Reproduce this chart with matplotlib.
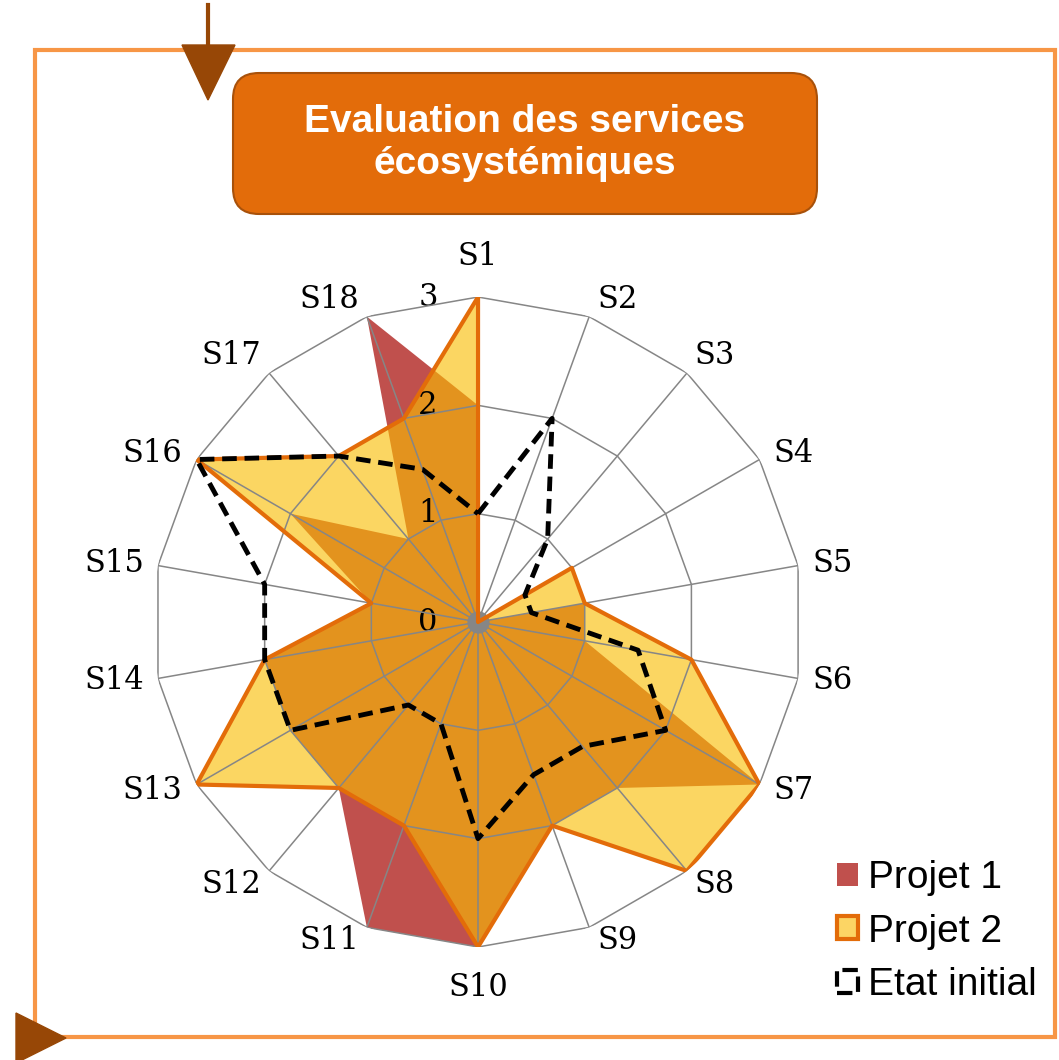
import numpy as np
import matplotlib.pyplot as plt
from matplotlib.patches import Patch, FancyBboxPatch, Polygon, Rectangle

services = [f"S{i}" for i in range(1, 19)]
projet1 = [2, 0, 0, 0, 1, 1, 3, 2, 2, 3, 3, 2, 2, 2, 1, 2, 1, 3]
projet2 = [3, 0, 0, 1, 1, 2, 3, 3, 2, 3, 2, 2, 3, 2, 1, 3, 2, 2]
etat_initial = [1, 2, 1, 0.5, 0.5, 1.5, 2, 1.5, 1.5, 2, 1, 1, 2, 2, 2, 3, 2, 1.5]
niveaux = [0, 1, 2, 3]
legende = ["Projet 1", "Projet 2", "Etat initial"]

rouge = "#C0504D"
jaune = (250/255, 189/255, 2/255, 0.62)
orange = "#E36C09"
gris = "#868686"

n = len(services)
angles = np.linspace(0, 2*np.pi, n, endpoint=False)
a_ferme = np.append(angles, angles[0])

def ferme(v):
    return list(v) + [v[0]]

fig = plt.figure(figsize=(10.59, 10.60), dpi=100)

# decor : cadre, fleches, titre (coordonnees en pixels)
deco = fig.add_axes([0, 0, 1, 1], zorder=0)
deco.set_xlim(0, 1059)
deco.set_ylim(1060, 0)
deco.axis('off')
deco.add_patch(Rectangle((35, 50), 1020, 987, fill=False, edgecolor='#F79646', lw=3))
deco.plot([208, 208], [5, 50], color='#974706', lw=3)
deco.add_patch(Polygon([(182, 45), (235, 45), (208, 100)], closed=True, color='#974706'))
deco.add_patch(Polygon([(16, 1013), (16, 1063), (66, 1038)], closed=True, color='#974706'))
deco.add_patch(FancyBboxPatch((233, 73), 584, 141, boxstyle="round,pad=0,rounding_size=26",
                              facecolor='#E36C0A', edgecolor='#A8510A', lw=1.5))
deco.text(525, 143, "Evaluation des services\nécosystémiques", ha='center', va='center',
          color='white', fontsize=28, fontweight='bold', family='Liberation Sans', linespacing=1.2)

# radar
ax = fig.add_axes([0.1445, 0.1066, 0.6138, 0.6132], projection='polar', zorder=1)
ax.set_theta_zero_location('N')
ax.set_theta_direction(-1)
ax.set_ylim(0, 3)
ax.set_axis_off()

ax.fill(a_ferme, ferme(projet1), facecolor=rouge, edgecolor='none', zorder=2)
ax.fill(a_ferme, ferme(projet2), facecolor=jaune, edgecolor='none', zorder=3)

for lvl in niveaux[1:]:
    ax.plot(a_ferme, [lvl]*(n+1), color=gris, lw=1.1, zorder=4)
for a in angles:
    ax.plot([a, a], [0, 3], color=gris, lw=1.1, zorder=4)
ax.plot([0], [0], 'o', color=gris, ms=15, zorder=4)

ax.plot(a_ferme, ferme(projet2), color=orange, lw=3, zorder=5)
ax.plot(a_ferme, ferme(etat_initial), color='black', lw=3.5, dashes=(3, 1.6), zorder=6)

# etiquettes des axes, placees comme dans Excel autour des sommets
for a, s in zip(angles, services):
    sn, cs = np.sin(a), np.cos(a)
    sx = 0 if abs(sn) < 0.1 else np.sign(sn)
    ha = {0: 'center', 1: 'left', -1: 'right'}[int(sx)]
    if abs(cs) > 0.7:
        va = 'bottom' if cs > 0 else 'top'
        dx = 8 * sx
        dy = 25 * np.sign(cs) if sx == 0 else 2
    else:
        va = 'center'
        dx = 14 * sx
        dy = 12 * cs
    ax.annotate(s, xy=(a, 3), xytext=(dx*0.72, dy*0.72), textcoords='offset points',
                ha=ha, va=va, fontsize=22, family='DejaVu Serif')
for lvl in niveaux:
    ax.annotate(str(lvl), xy=(0, lvl), xytext=(-36, 0), textcoords='offset points',
                ha='center', va='center', fontsize=22, family='DejaVu Serif')

poignees = [Patch(facecolor=rouge, edgecolor='none'),
            Patch(facecolor='#FCD564', edgecolor=orange, lw=3),
            Patch(facecolor='none', edgecolor='black', lw=3, linestyle='--')]
fig.legend(poignees, legende, loc='upper left', bbox_to_anchor=(837/1059, 1-860/1060),
           frameon=False, prop={'family': 'Liberation Sans', 'size': 28},
           handlelength=0.55, handleheight=0.55, handletextpad=0.25,
           labelspacing=0.45, borderpad=0, borderaxespad=0)

plt.savefig('out.png', dpi=100)
